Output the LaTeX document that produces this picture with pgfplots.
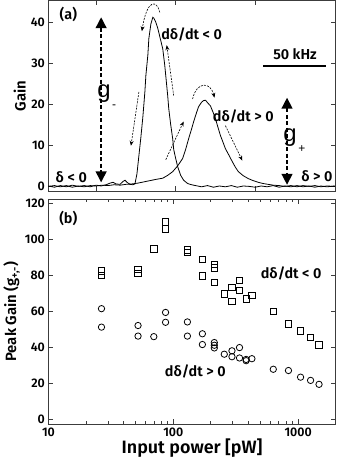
\documentclass[border=0pt]{standalone}
\usepackage{fontspec}
\setmainfont{Fira Sans}[BoldFont={Fira Sans SemiBold}]
\newfontfamily\gfont{Liberation Sans}
\usepackage{pgfplots}
\pgfplotsset{compat=1.18}
\usetikzlibrary{arrows.meta}
\definecolor{framegray}{HTML}{3C3C3C}

\pgfplotsset{
  panel/.style={
    scale only axis, width=289pt,
    axis line style={framegray, line width=0.9pt},
    tick style={framegray, line width=0.8pt},
    tick align=inside, major tick length=5pt, minor tick length=3pt,
    tick label style={font=\fontsize{12.5}{14}\selectfont\bfseries},
    ylabel style={font=\fontsize{15}{17}\selectfont\bfseries},
    xlabel style={font=\fontsize{18}{20}\selectfont\bfseries},
    /pgf/number format/assume math mode=true,
  },
  gtrace/.style={black, line width=0.8pt, no marks},
}
\tikzset{ann/.style={font=\fontsize{14.5}{16}\selectfont\bfseries}}

\begin{document}
\begin{tikzpicture}
\begin{axis}[panel, name=top, height=192pt,
  xmin=42, xmax=331, ymin=-1.2, ymax=45.3,
  xtick={90,170,250}, xticklabels={},
  ytick={0,10,20,30,40},
  ylabel={Gain}, ylabel style={yshift=-2pt},
]
% dd/dt < 0 : narrow, tall resonance
\addplot[gtrace] coordinates {
(42,0.1) (48,-0.2) (54,0.2) (60,-0.1) (66,0.3) (72,0) (78,0.2) (84,-0.1) (90,0.3)
(95,0.1) (100,0.4) (104,0.8) (107,1.0) (110,0.6) (114,0.5) (117,1.2) (119,1.5)
(121,1.0) (124,0.5) (127,0.4) (129,0.6) (131,3) (133,7.5) (135,12) (137,17)
(139,23) (140,27) (142,32) (143,36) (145,39.5) (147,41.2) (148,41) (150,40)
(152,38.5) (155,35.5) (157,33.5) (159,29.5) (160,27) (162,22) (163,19) (165,15)
(167,11.6) (168,9) (170,6.8) (172,4.8) (175,2.7) (178,1.5) (182,0.7) (186,0.4)
(190,0.2) (196,-0.1) (202,0.2) (208,-0.2) (214,0.1) (220,-0.1) (226,0.2)
(232,-0.2) (238,0.1) (244,0) (250,-0.2) (256,0.1) (262,-0.1) (268,0.2)
(274,-0.2) (280,0.1) (286,-0.1) (292,0.2) (298,-0.1) (304,0.1) (310,-0.2)
(316,0.1) (322,-0.1) (330,0.1)
};
% dd/dt > 0 : broad resonance
\addplot[gtrace] coordinates {
(42,0) (48,0.2) (54,-0.1) (60,0.2) (66,-0.2) (72,0.1) (78,-0.1) (84,0.2) (90,0.1)
(96,0.3) (102,0.2) (108,0.4) (114,0.3) (120,0.5) (126,0.6) (132,0.8) (138,1.1)
(144,1.4) (150,1.7) (157,2.0) (162,2.7) (167,3.6) (172,5.0) (177,6.8) (180,9)
(183,11.6) (186,14) (188,15.7) (191,18) (193,19.4) (196,20.5) (198,20.9) (200,21)
(202,20.4) (205,19.6) (208,17.8) (210,16.5) (213,14) (215,12.4) (218,10.5)
(220,9.2) (224,7.4) (227,6) (230,4.7) (233,3.6) (238,2.6) (243,1.9) (248,1.4)
(253,1.0) (258,0.7) (263,0.5) (268,0.3) (274,0.2) (280,0) (286,0.2) (292,-0.1)
(298,0.2) (304,0) (310,0.2) (316,-0.1) (322,0.1) (330,0)
};
% annotations
\node[ann] at (62,41.9) {(a)};
\draw[black, line width=1.4pt, dash pattern=on 4pt off 2.5pt,
  {Triangle[width=11pt,length=11pt]}-{Triangle[width=11pt,length=11pt]}] (95,41.2) -- (95,1.0);
\draw[black, line width=1.4pt, dash pattern=on 4pt off 2.5pt,
  {Triangle[width=11pt,length=11pt]}-{Triangle[width=11pt,length=11pt]}] (282,21.6) -- (282,0.4);
\node[font=\gfont\fontsize{24}{24}\selectfont] at (98,22.5) {g};
\node[font=\gfont\fontsize{12}{12}\selectfont, inner sep=1pt] at (108,19.4) {-};
\node[font=\gfont\fontsize{24}{24}\selectfont] at (285,11.8) {g};
\node[font=\gfont\fontsize{12}{12}\selectfont, inner sep=1pt] at (297,9.2) {+};
\node[ann] at (65,2.3) {δ < 0};
\node[ann] at (312,2.6) {δ > 0};
\node[ann] at (186,36.9) {dδ/dt < 0};
\node[ann] at (238,17.0) {dδ/dt > 0};
\node[ann] at (290,32.2) {50 kHz};
\draw[black, line width=2.2pt] (258,29.3) -- (321,29.3);
\begin{scope}[black, line width=0.6pt, dash pattern=on 2pt off 1.2pt, -{Stealth[length=5pt,width=4pt]}]
  \draw (154,42.4) .. controls (151,45.6) and (141,45.6) .. (136,37.8);
  \draw (133,23.0) -- (125,9.9);
  \draw (168,22.1) -- (161,34.4);
  \draw (187,21.3) .. controls (191,25.6) and (205,25.6) .. (209,21.6);
  \draw (160,6.5) -- (178,15.8);
  \draw (220,14.8) -- (237,6.3);
\end{scope}
\end{axis}

\begin{axis}[panel, at={(top.south west)}, anchor=north west, yshift=-8pt,
  height=226pt, xmode=log, xmin=10, xmax=2000, ymin=-2.8, ymax=122.5,
  xtick={10,100,1000}, xticklabels={10,100,1000},
  ytick={0,20,40,60,80,100,120},
  xlabel={Input power [pW]}, ylabel={Peak Gain (g\textsubscript{+,-})},
  ylabel style={yshift=-2pt}, xlabel style={yshift=4pt},
]
\addplot[only marks, mark=square, mark size=3.2pt, mark options={black, line width=0.8pt}] coordinates {
(26.6,82.6) (26.6,80.2) (52.2,83.3) (52.2,81.1) (69.8,94.8) (86.7,109.9) (86.7,105.9)
(129.7,94.3) (129.7,93) (171,88.8) (171,79.8) (213,86.2) (213,84.2) (213,76.1)
(256,69.7) (295,73.2) (295,65.5) (339,77.4) (339,71.6) (383,67) (426,68.8)
(632,60) (836,53) (1045,49) (1257,45.3) (1469,41.3)
};
\addplot[only marks, mark=o, mark size=3.2pt, mark options={black, line width=0.8pt}] coordinates {
(26.6,61.5) (26.6,51.2) (52.2,52.1) (52.2,46.2) (69.8,45.9) (86.7,59.4) (86.7,53.9)
(129.7,54.1) (129.7,46.2) (171,47.5) (171,41.5) (213,42.6) (213,41.1) (213,39.6)
(256,36.1) (295,38) (295,34.7) (339,39.8) (339,34) (383,32.5) (383,33.2) (426,33.6)
(632,27.7) (836,27) (1045,23.3) (1257,21.5) (1469,19.3)
};
\node[ann] at (rel axis cs:0.069,0.916) {(b)};
\node[ann] at (879,81.1) {dδ/dt < 0};
\node[ann] at (150,26.5) {dδ/dt > 0};
\end{axis}
\end{tikzpicture}
\end{document}
